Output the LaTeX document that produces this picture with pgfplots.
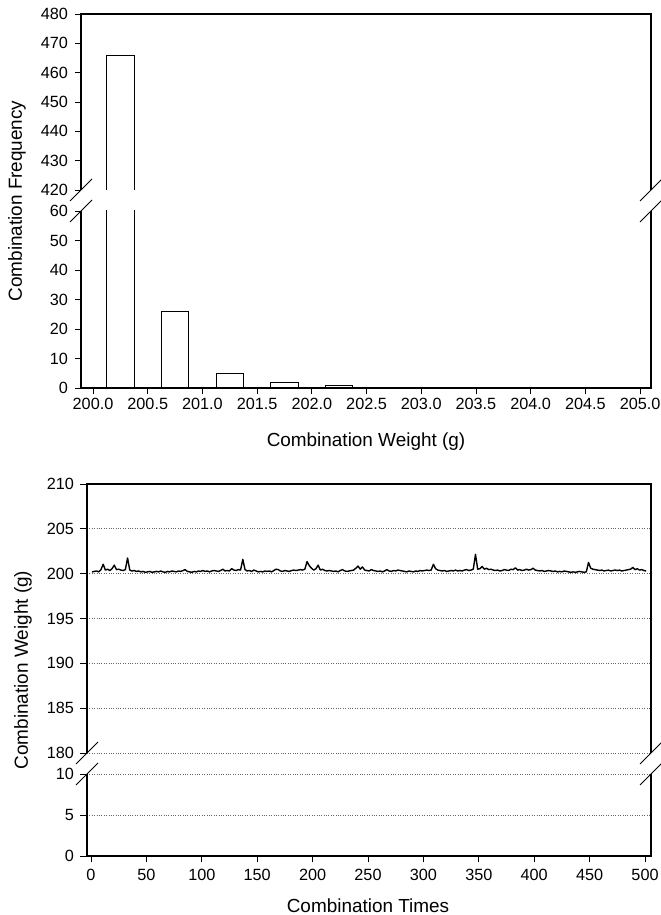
\documentclass[border=0pt]{standalone}
\usepackage{fontspec}
\setmainfont{Liberation Sans}
\usepackage{pgfplots}
\usepackage{pgfplotstable}
\pgfplotsset{compat=1.18}

\pgfplotstableread{
x y
200.25 466
200.75 26
201.25 5
201.75 2
202.25 1
}\histdata

\pgfplotstableread{
x y
1 200.2
3 200.25
5 200.3
7 200.2
9 200.45
11 201.05
13 200.4
15 200.5
17 200.35
19 200.55
21 200.95
23 200.45
25 200.5
27 200.4
29 200.35
31 200.45
33 201.75
35 200.4
37 200.3
39 200.35
41 200.25
43 200.3
45 200.2
47 200.25
49 200.15
51 200.2
53 200.25
55 200.15
57 200.2
59 200.25
61 200.2
63 200.3
65 200.2
67 200.15
69 200.25
71 200.2
73 200.3
75 200.25
77 200.2
79 200.3
81 200.25
83 200.35
85 200.45
87 200.25
89 200.2
91 200.15
93 200.25
95 200.2
97 200.3
99 200.25
101 200.35
103 200.25
105 200.3
107 200.2
109 200.3
111 200.35
113 200.3
115 200.25
117 200.35
119 200.5
121 200.3
123 200.35
125 200.3
127 200.55
129 200.4
131 200.35
133 200.45
135 200.4
137 201.6
139 200.45
141 200.3
143 200.35
145 200.25
147 200.4
149 200.3
151 200.2
153 200.25
155 200.2
157 200.3
159 200.25
161 200.3
163 200.2
165 200.35
167 200.5
169 200.45
171 200.3
173 200.25
175 200.35
177 200.3
179 200.25
181 200.35
183 200.4
185 200.35
187 200.4
189 200.45
191 200.4
193 200.5
195 201.35
197 200.9
199 200.6
201 200.4
203 200.55
205 200.95
207 200.4
209 200.5
211 200.35
213 200.3
215 200.35
217 200.3
219 200.25
221 200.3
223 200.2
225 200.35
227 200.45
229 200.3
231 200.25
233 200.3
235 200.35
237 200.4
239 200.6
241 200.85
243 200.5
245 200.75
247 200.4
249 200.35
251 200.3
253 200.45
255 200.35
257 200.3
259 200.25
261 200.3
263 200.2
265 200.3
267 200.45
269 200.3
271 200.25
273 200.35
275 200.3
277 200.4
279 200.35
281 200.3
283 200.25
285 200.2
287 200.3
289 200.25
291 200.2
293 200.3
295 200.25
297 200.35
299 200.3
301 200.35
303 200.4
305 200.35
307 200.4
309 201.05
311 200.55
313 200.4
315 200.35
317 200.3
319 200.35
321 200.25
323 200.3
325 200.35
327 200.3
329 200.4
331 200.3
333 200.35
335 200.3
337 200.4
339 200.45
341 200.35
343 200.4
345 200.5
347 202.15
349 200.5
351 200.55
353 200.8
355 200.5
357 200.6
359 200.45
361 200.5
363 200.4
365 200.35
367 200.4
369 200.3
371 200.35
373 200.45
375 200.4
377 200.35
379 200.5
381 200.45
383 200.65
385 200.4
387 200.45
389 200.35
391 200.4
393 200.5
395 200.4
397 200.45
399 200.6
401 200.4
403 200.35
405 200.3
407 200.35
409 200.25
411 200.3
413 200.35
415 200.3
417 200.25
419 200.3
421 200.2
423 200.25
425 200.2
427 200.3
429 200.25
431 200.2
433 200.15
435 200.2
437 200.15
439 200.2
441 200.25
443 200.2
445 200.15
447 200.2
449 201.25
451 200.6
453 200.5
455 200.45
457 200.4
459 200.35
461 200.4
463 200.3
465 200.35
467 200.4
469 200.3
471 200.35
473 200.4
475 200.35
477 200.4
479 200.3
481 200.35
483 200.4
485 200.45
487 200.5
489 200.7
491 200.45
493 200.55
495 200.4
497 200.45
499 200.35
501 200.3
}\weightdata

\pgfplotsset{
  seg/.style={
    scale only axis, anchor=south west,
    axis line style={draw=none},
    tick align=outside, major tick length=6.5bp,
    tick style={black, line width=0.9bp},
    ticklabel style={font=\fontsize{16.3}{18}\selectfont},
    yticklabel style={xshift=-3bp},
    /pgf/number format/assume math mode=true,
    ytick pos=left, xtick pos=left,
  },
  dgrid/.style={ymajorgrids, grid style={dotted, line width=0.7bp, black!60}},
}

\begin{document}
\begin{tikzpicture}
\useasboundingbox (0,0) rectangle (661bp,915bp);

% ---------- top panel: histogram ----------
\begin{axis}[seg, name=tu, at={(81bp,725bp)}, width=570bp, height=176bp,
  xmin=199.89, xmax=205.1, ymin=420, ymax=480,
  ytick={420,430,...,480}, xtick=\empty]
  % outline of the 466 bar (200.125 -- 200.375), clipped at the break
  \addplot[black, line width=1bp, mark=none] coordinates {(200.125,0) (200.125,466) (200.375,466) (200.375,0)};
\end{axis}
\begin{axis}[seg, name=tl, at={(81bp,527bp)}, width=570bp, height=177bp,
  xmin=199.89, xmax=205.1, ymin=0, ymax=60,
  ytick={0,10,...,60}, xtick={200,200.5,...,205},
  xticklabel style={/pgf/number format/.cd, fixed, fixed zerofill, precision=1},
  ybar, bar width=0.25]
  \addplot[fill=white, draw=black, line width=1bp] table[x=x,y=y] {\histdata};
\end{axis}
\draw[line width=1.3bp] (tu.south west) -- (tu.north west) -- (tu.north east) -- (tu.south east);
\draw[line width=1.3bp] (tl.north west) -- (tl.south west) -- (tl.south east) -- (tl.north east);
\foreach \p in {tu.south west, tu.south east, tl.north west, tl.north east}
  \draw[line width=0.8bp] (\p) ++(-11bp,-11bp) -- ++(22bp,22bp);

\node[font=\fontsize{19}{21}\selectfont, anchor=base] at (366bp,468bp) {Combination Weight (g)};
\node[font=\fontsize{19}{21}\selectfont, rotate=90] at (17bp,714bp) {Combination Frequency};

% ---------- bottom panel: weight sequence ----------
\begin{axis}[seg, dgrid, name=bu, at={(87bp,162bp)}, width=564bp, height=269bp,
  xmin=-3.6, xmax=505.4, ymin=180, ymax=210,
  ytick={180,185,...,210}, xtick=\empty]
  \addplot[black, line width=1.4bp, mark=none, line join=round] table[x=x,y=y] {\weightdata};
\end{axis}
\begin{axis}[seg, dgrid, name=bl, at={(87bp,59bp)}, width=564bp, height=82bp,
  xmin=-3.6, xmax=505.4, ymin=0, ymax=10,
  ytick={0,5,10}, xtick={0,50,...,500},
  xticklabel style={yshift=-3bp}]
  \addplot[draw=none, mark=none] coordinates {(0,0)};
\end{axis}
\draw[line width=1.3bp] (bu.south west) -- (bu.north west) -- (bu.north east) -- (bu.south east);
\draw[line width=1.3bp] (bl.north west) -- (bl.south west) -- (bl.south east) -- (bl.north east);
\foreach \p in {bu.south west, bu.south east, bl.north west, bl.north east}
  \draw[line width=0.8bp] (\p) ++(-11bp,-11bp) -- ++(22bp,22bp);

\node[font=\fontsize{19}{21}\selectfont, anchor=base] at (368bp,3bp) {Combination Times};
\node[font=\fontsize{19}{21}\selectfont, rotate=90] at (23bp,245bp) {Combination Weight (g)};
\end{tikzpicture}
\end{document}
